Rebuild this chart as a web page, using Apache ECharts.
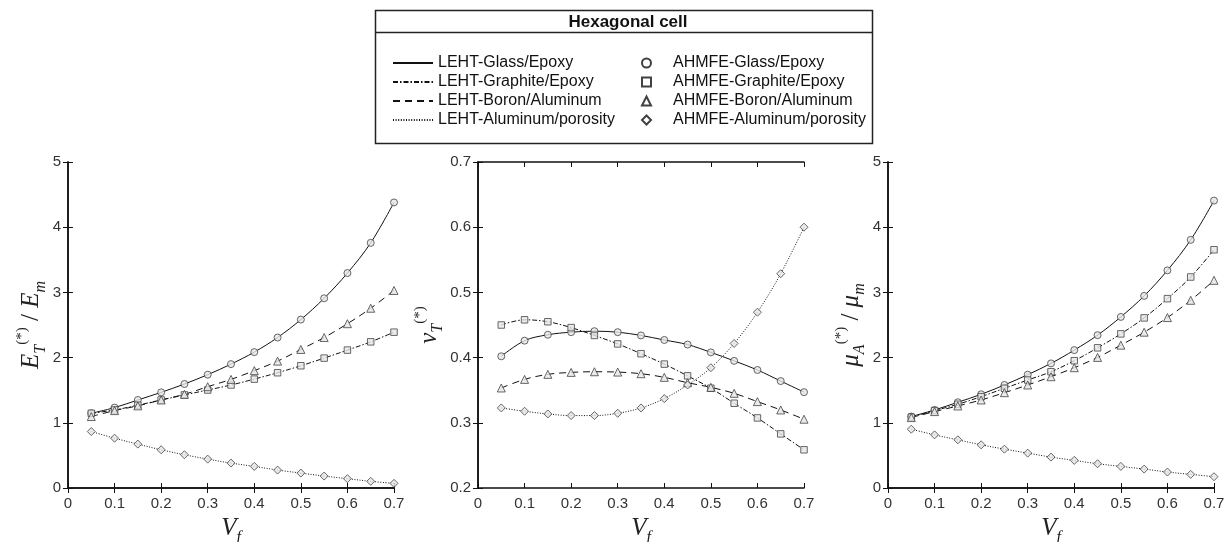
<!DOCTYPE html>
<html><head><meta charset="utf-8">
<script src="https://cdn.jsdelivr.net/npm/echarts@6/dist/echarts.min.js"></script>
<style>html,body{margin:0;padding:0;background:#fff}#c{width:1225px;height:542px}</style>
</head><body><div id="c"></div>
<script>
// ---- data ----
const vf = [0.05,0.1,0.15,0.2,0.25,0.3,0.35,0.4,0.45,0.5,0.55,0.6,0.65,0.7];
// E_T / E_m
const etGlass    = [1.146,1.233,1.35,1.467,1.595,1.738,1.90,2.084,2.308,2.583,2.91,3.297,3.76,4.38];
const etGraphite = [1.146,1.197,1.27,1.35,1.427,1.503,1.58,1.67,1.768,1.875,1.992,2.115,2.242,2.39];
const etBoron    = [1.096,1.187,1.26,1.35,1.437,1.554,1.666,1.80,1.946,2.125,2.308,2.52,2.757,3.03];
const etPorosity = [0.866,0.764,0.673,0.586,0.51,0.443,0.382,0.331,0.275,0.229,0.183,0.143,0.102,0.071];
// nu_T
const nuGlass    = [0.402,0.426,0.435,0.439,0.4405,0.439,0.434,0.427,0.420,0.408,0.395,0.381,0.364,0.347];
const nuGraphite = [0.450,0.458,0.455,0.446,0.434,0.421,0.406,0.390,0.372,0.353,0.330,0.3075,0.283,0.2586];
const nuBoron    = [0.3534,0.3666,0.3743,0.3773,0.3783,0.3778,0.3753,0.3697,0.3615,0.3544,0.3452,0.3325,0.3197,0.3055];
const nuPorosity = [0.3228,0.3177,0.3136,0.3111,0.3111,0.3146,0.3228,0.3371,0.358,0.3845,0.4217,0.4696,0.5287,0.600];
// mu_A / mu_m
const muGlass    = [1.096,1.197,1.315,1.437,1.58,1.738,1.911,2.115,2.344,2.624,2.946,3.338,3.806,4.408];
const muGraphite = [1.085,1.187,1.284,1.401,1.529,1.656,1.783,1.952,2.15,2.364,2.609,2.904,3.236,3.654];
const muBoron    = [1.08,1.172,1.258,1.35,1.462,1.58,1.707,1.845,2.003,2.191,2.39,2.614,2.879,3.185];
const muPorosity = [0.902,0.815,0.739,0.662,0.596,0.535,0.474,0.423,0.372,0.331,0.29,0.245,0.209,0.173];

const materials = ['Glass/Epoxy','Graphite/Epoxy','Boron/Aluminum','Aluminum/porosity'];
const lineNames = materials.map(m => 'LEHT-' + m);
const markNames = materials.map(m => 'AHMFE-' + m);
const legendTitle = 'Hexagonal cell';
const xAxisRange = [0, 0.7];
const yRanges = [[0, 5, 1], [0.2, 0.7, 0.1], [0, 5, 1]];
const panels = [
  [etGlass, etGraphite, etBoron, etPorosity],
  [nuGlass, nuGraphite, nuBoron, nuPorosity],
  [muGlass, muGraphite, muBoron, muPorosity]
];

// ---- styles ----
const dashes = ['solid', [5,2,1.5,2], [7,5], [1,1.6]];
const symbols = ['circle','rect','triangle','diamond'];
const symSizes = [7, 6.5, 8, 8];
const grids = [
  {left: 68, top: 162, width: 326, height: 326, outerBoundsMode: 'none'},
  {left: 478, top: 162, width: 326, height: 326, outerBoundsMode: 'none'},
  {left: 888, top: 162, width: 326, height: 326, outerBoundsMode: 'none'}
];
const yNameGaps = [19, 31, 20];
const math = {fontFamily: 'Liberation Serif', fontStyle: 'italic', fontSize: 25, color: '#222', lineHeight: 34};
const up = {fontFamily: 'Liberation Serif', fontSize: 15, color: '#222', verticalAlign: 'top', lineHeight: 15};
const dn = {fontFamily: 'Liberation Serif', fontStyle: 'italic', fontSize: 16, color: '#222', verticalAlign: 'bottom', lineHeight: 16};
const rich = {i: math, r: Object.assign({}, math, {fontStyle: 'normal'}), sup: up, sub: dn};
const yNames = [
  '{i|E}{sub|T}{sup|(*)}{r| / }{i|E}{sub|m}',
  '{i|ν}{sub|T}{sup|(*)}',
  '{i|μ}{sub|A}{sup|(*)}{r| / }{i|μ}{sub|m}'
];
const axisLine = {show: true, lineStyle: {color: '#111', width: 1.5}};
const tickFont = {fontFamily: 'Liberation Sans', fontSize: 15, color: '#333'};

const xAxes = [], yAxes = [], series = [];
grids.forEach((g, p) => {
  xAxes.push({type: 'value', gridIndex: p, min: xAxisRange[0], max: xAxisRange[1], interval: 0.1,
    position: 'bottom', axisLine, axisTick: {inside: true, length: 5, lineStyle: {color: '#111'}},
    axisLabel: Object.assign({margin: 8}, tickFont), splitLine: {show: false},
    name: '{i|V}{sub|f}', nameLocation: 'middle', nameGap: 21, nameTextStyle: {rich}});
  xAxes.push({type: 'value', gridIndex: p, min: xAxisRange[0], max: xAxisRange[1], interval: 0.1,
    position: 'top', axisLine, axisTick: {inside: true, length: 5, lineStyle: {color: '#111'}},
    axisLabel: {show: false}, splitLine: {show: false}});
  const yr = yRanges[p];
  yAxes.push({type: 'value', gridIndex: p, min: yr[0], max: yr[1], interval: yr[2],
    position: 'left', axisLine, axisTick: {inside: true, length: 5, lineStyle: {color: '#111'}},
    axisLabel: Object.assign({margin: 7, showMaxLabel: true}, tickFont), splitLine: {show: false},
    name: yNames[p], nameLocation: 'middle', nameGap: yNameGaps[p], nameRotate: 90, nameTextStyle: {rich}});
  yAxes.push({type: 'value', gridIndex: p, min: yr[0], max: yr[1], interval: yr[2],
    position: 'right', axisLine, axisTick: {inside: true, length: 5, lineStyle: {color: '#111'}},
    axisLabel: {show: false}, splitLine: {show: false}});
  panels[p].forEach((vals, k) => {
    const data = vf.map((x, i) => [x, vals[i]]);
    series.push({type: 'line', name: lineNames[k], xAxisIndex: 2*p, yAxisIndex: 2*p, data,
      smooth: 0.35, symbol: 'none', silent: true, z: 2,
      lineStyle: {color: '#111', width: 1, type: dashes[k]}, itemStyle: {color: '#111'}});
    series.push({type: 'scatter', name: markNames[k], xAxisIndex: 2*p, yAxisIndex: 2*p, data,
      symbol: symbols[k], symbolSize: symSizes[k], silent: true, z: 3,
      itemStyle: {color: '#e6e6e6', borderColor: '#444', borderWidth: 1}});
  });
});

const legendText = {fontFamily: 'Liberation Sans', fontSize: 16, color: '#111', lineHeight: 16};
const chart = echarts.init(document.getElementById('c'));
chart.setOption({
  animation: false,
  title: {text: legendTitle, left: 623, top: 9, textAlign: 'center',
    textStyle: {fontFamily: 'Liberation Sans', fontWeight: 'bold', fontSize: 17, color: '#111'}},
  graphic: [
    {type: 'rect', shape: {x: 375.5, y: 10.5, width: 497, height: 133}, style: {fill: 'none', stroke: '#222', lineWidth: 1.5}, silent: true},
    {type: 'line', shape: {x1: 375.5, y1: 32.5, x2: 872.5, y2: 32.5}, style: {stroke: '#222', lineWidth: 1.5}, silent: true}
  ],
  legend: [
    {data: lineNames, orient: 'vertical', left: 387, top: 50, itemWidth: 40, itemHeight: 14, itemGap: 3,
      textStyle: legendText, lineStyle: {width: 2}, itemStyle: {opacity: 0}, selectedMode: false},
    {data: markNames, orient: 'vertical', left: 636, top: 50, itemWidth: 9, itemHeight: 9, itemGap: 3,
      textStyle: Object.assign({padding: [0,0,0,17]}, legendText),
      itemStyle: {color: '#fff', borderColor: '#111', borderWidth: 2}, selectedMode: false}
  ],
  grid: grids,
  xAxis: xAxes,
  yAxis: yAxes,
  series
});
</script></body></html>
